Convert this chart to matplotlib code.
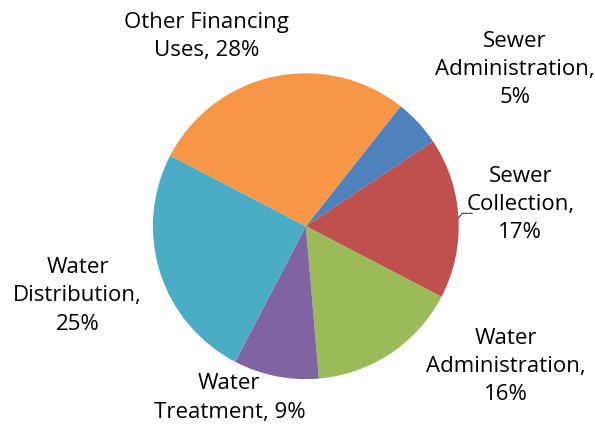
import matplotlib
matplotlib.use("Agg")
import matplotlib.pyplot as plt
import numpy as np

# data
categories = ["Sewer\nAdministration,", "Sewer\nCollection,", "Water\nAdministration,",
              "Water\nTreatment,", "Water\nDistribution,", "Other Financing\nUses,"]
shares = [5, 17, 16, 9, 25, 28]
colors = ["#4F81BD", "#C0504D", "#9BBB59", "#8064A2", "#4BACC6", "#F79646"]

# label placement (angle in degrees, distance in radii)
label_pos = [(36.9, 1.71), (5.7, 1.41), (-35.0, 1.60), (-114.0, 1.23), (197.0, 1.56), (117.7, 1.40)]

fig = plt.figure(figsize=(5.95, 4.26), dpi=100)
ax = fig.add_axes([0.514 - 0.257, 0.469 - 0.359, 0.514, 0.718])

wedges, _ = ax.pie(shares, colors=colors, startangle=51.7, counterclock=False,
                   radius=1.0, wedgeprops=dict(linewidth=0))
ax.set_xlim(-1, 1)
ax.set_ylim(-1, 1)
ax.set_aspect("equal")
ax.axis("off")

for name, val, (ang, dist) in zip(categories, shares, label_pos):
    a = np.deg2rad(ang)
    if name.startswith("Other"):
        txt = name.split("\n")[0] + "\n" + name.split("\n")[1] + " " + str(val) + "%"
    elif name.startswith("Water\nTreatment"):
        txt = "Water\nTreatment, " + str(val) + "%"
    else:
        txt = name + "\n" + str(val) + "%"
    ax.text(dist * np.cos(a), dist * np.sin(a), txt, ha="center", va="center",
            fontsize=16, family="Open Sans", color="#000000", linespacing=1.45,
            clip_on=False)

# leader line for Sewer Collection
w = wedges[1]
mid = np.deg2rad((w.theta1 + w.theta2) / 2)
x0, y0 = np.cos(mid) * 1.0, np.sin(mid) * 1.0
ax.plot([x0, x0 + 0.025, x0 + 0.09], [y0, y0 + 0.03, y0 + 0.03], color="#404040",
        linewidth=0.8, clip_on=False)

fig.savefig("out.png", dpi=100)
